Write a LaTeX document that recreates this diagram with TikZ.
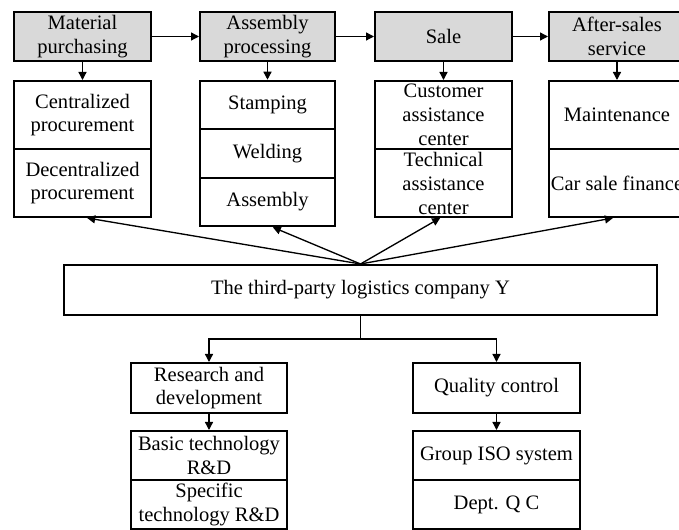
\documentclass[tikz,border=0pt]{standalone}
\usepackage{fontspec}
\setmainfont{Liberation Serif}
\usetikzlibrary{arrows.meta}
\definecolor{headgray}{RGB}{217,217,217}
\tikzset{
  headbox/.style={draw, fill=headgray, line width=1.5pt, align=center, inner sep=0pt, minimum height=36.75pt, font=\fontsize{15.4}{17.5}\selectfont},
  subbox/.style={draw, line width=1.5pt, align=center, inner sep=0pt, font=\fontsize{15.4}{17.5}\selectfont},
  link/.style={line width=1pt, -{Triangle[length=6pt,width=6pt]}}
}

\begin{document}
\begin{tikzpicture}[x=0.75pt,y=0.75pt,yscale=-1,xscale=1]
\useasboundingbox (0,0) rectangle (679,530);

% Head boxes
\node (mat) [headbox, minimum width=102.75pt] at (82.5,36.5) {Material\\purchasing};
\node (asm) [headbox, minimum width=101.25pt] at (267.5,36.5) {Assembly\\processing};
\node (sale) [headbox, minimum width=102.75pt] at (443.5,36.5) {Sale};
\node (after) [headbox, minimum width=102pt] at (617,36.5) {After-sales\\service};

% Material purchasing
\node (cent) [subbox, minimum width=102.75pt, minimum height=51pt] at (82.5,115) {Centralized\\procurement};
\node (decent) [subbox, minimum width=102.75pt, minimum height=51pt] at (82.5,183) {Decentralized\\procurement};
% Assembly processing
\node (stamp) [subbox, minimum width=101.25pt, minimum height=36.4pt] at (267.5,105) {Stamping};
\node (weld) [subbox, minimum width=101.25pt, minimum height=36.4pt] at (267.5,153.5) {Welding};
\node (assy) [subbox, minimum width=101.25pt, minimum height=36.4pt] at (267.5,202) {Assembly};
% Sale
\node (cust) [subbox, minimum width=102.75pt, minimum height=51pt, font=\fontsize{15.4}{18}\selectfont] at (443.5,115) {Customer\\assistance\\center};
\node (tech) [subbox, minimum width=102.75pt, minimum height=51pt, font=\fontsize{15.4}{18}\selectfont] at (443.5,183) {Technical\\assistance\\center};
% After-sales service
\node (maint) [subbox, minimum width=102pt, minimum height=51pt] at (617,115) {Maintenance};
\node (fin) [subbox, minimum width=102pt, minimum height=51pt] at (617,183) {Car sale finance};

% Logistics company
\node (tpl) [subbox, minimum width=444.75pt, minimum height=37.5pt] at (360.5,290) {The third-party logistics company Y};

% Lower branches
\node (rd) [subbox, minimum width=117pt, minimum height=37.5pt] at (209,388) {Research and\\development};
\node (basic) [subbox, minimum width=117pt, minimum height=36.75pt] at (209,455.5) {Basic technology\\R\&D};
\node (spec) [subbox, minimum width=117pt, minimum height=36.75pt] at (209,504.5) {Specific\\technology R\&D};
\node (qc) [subbox, minimum width=125.25pt, minimum height=37.5pt] at (496.5,388) {Quality control};
\node (iso) [subbox, minimum width=125.25pt, minimum height=36.75pt] at (496.5,455.5) {Group ISO system};
\node (dept) [subbox, minimum width=125.25pt, minimum height=36.75pt] at (496.5,504.5) {Dept. Q C};

% Chain of head boxes
\draw [link] (mat) -- (asm);
\draw [link] (asm) -- (sale);
\draw [link] (sale) -- (after);
\draw [link] (mat) -- (cent);
\draw [link] (asm) -- (stamp);
\draw [link] (sale) -- (cust);
\draw [link] (after) -- (maint);

% Fan from logistics company
\draw [link] (tpl.north) -- ([xshift=3.5pt]decent.south);
\draw [link] (tpl.north) -- ([xshift=4pt]assy.south);
\draw [link] (tpl.north) -- ([xshift=-2.5pt]tech.south);
\draw [link] (tpl.north) -- ([xshift=-3pt]fin.south);

% Tree below
\draw [line width=1pt] (tpl.south) -- ++(0,23) coordinate (fork);
\draw [link] (fork) -| (rd.north);
\draw [link] (fork) -| (qc.north);
\draw [link] (rd) -- (basic);
\draw [link] (qc) -- (iso);

\end{tikzpicture}
\end{document}
